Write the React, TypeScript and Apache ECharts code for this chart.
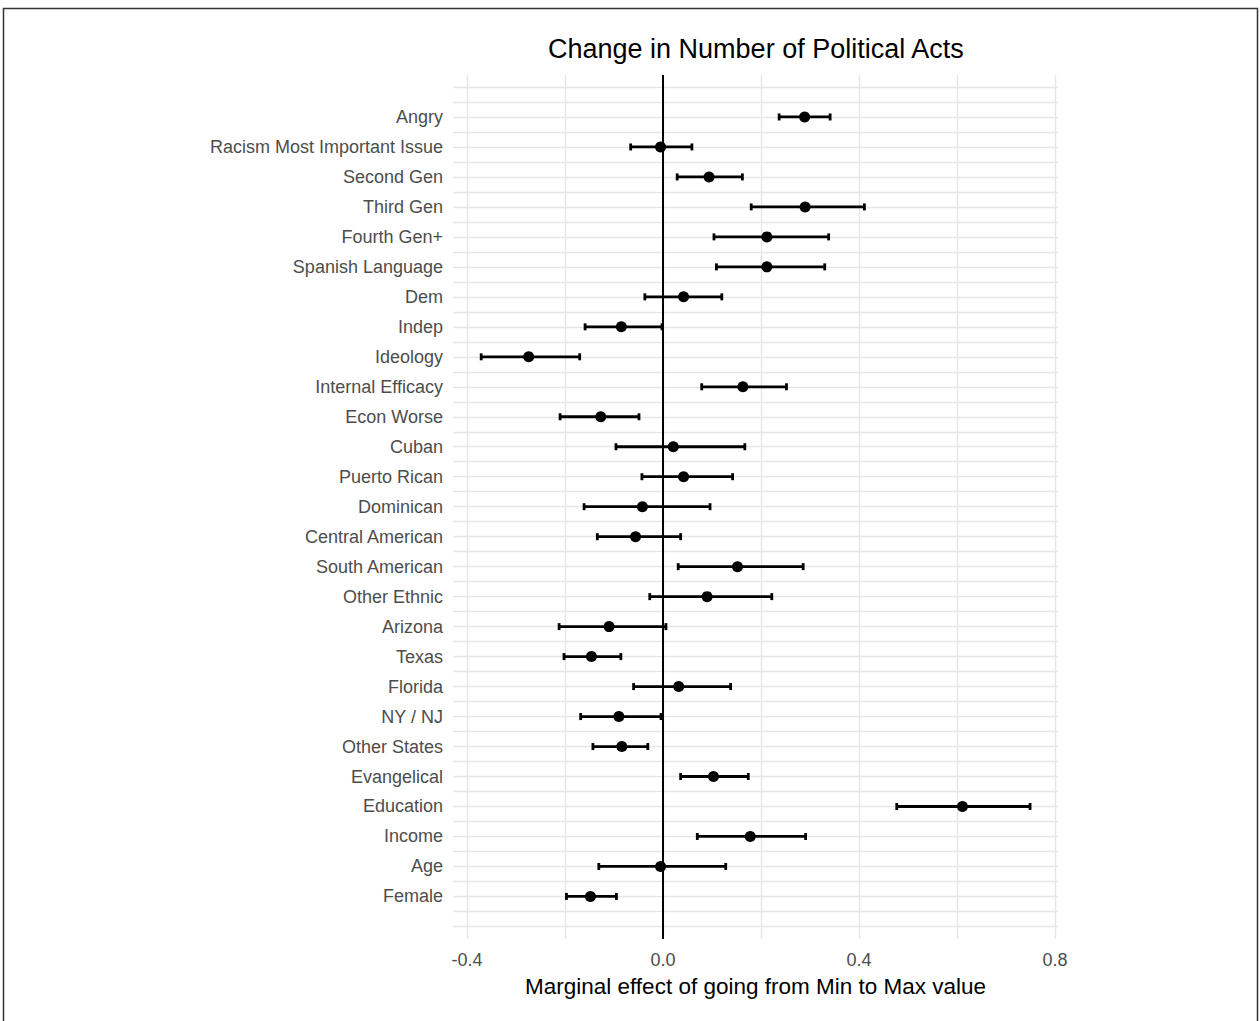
import React, { useEffect, useRef } from "react";
import * as echarts from "echarts";

// Categories listed from top to bottom
const categories = [
  "Angry",
  "Racism Most Important Issue",
  "Second Gen",
  "Third Gen",
  "Fourth Gen+",
  "Spanish Language",
  "Dem",
  "Indep",
  "Ideology",
  "Internal Efficacy",
  "Econ Worse",
  "Cuban",
  "Puerto Rican",
  "Dominican",
  "Central American",
  "South American",
  "Other Ethnic",
  "Arizona",
  "Texas",
  "Florida",
  "NY / NJ",
  "Other States",
  "Evangelical",
  "Education",
  "Income",
  "Age",
  "Female",
];

const estimates = [
  0.289, -0.005, 0.094, 0.29, 0.212, 0.212, 0.042, -0.085, -0.274, 0.163,
  -0.127, 0.021, 0.042, -0.042, -0.056, 0.152, 0.09, -0.11, -0.146, 0.032,
  -0.09, -0.084, 0.103, 0.611, 0.178, -0.005, -0.148,
];

const lowers = [
  0.237, -0.066, 0.029, 0.18, 0.104, 0.109, -0.037, -0.159, -0.371, 0.079,
  -0.21, -0.096, -0.043, -0.161, -0.134, 0.031, -0.027, -0.212, -0.202, -0.06,
  -0.168, -0.143, 0.036, 0.477, 0.07, -0.131, -0.197,
];

const uppers = [
  0.341, 0.059, 0.162, 0.411, 0.338, 0.33, 0.12, -0.002, -0.17, 0.252,
  -0.049, 0.167, 0.142, 0.096, 0.036, 0.286, 0.222, 0.006, -0.086, 0.138,
  -0.004, -0.031, 0.174, 0.749, 0.291, 0.128, -0.095,
];

const xTickLabels = ["-0.4", "0.0", "0.4", "0.8"];

const titleText = "Change in Number of Political Acts";
const xAxisName = "Marginal effect of going from Min to Max value";

const N = categories.length;

export default function App() {
  const ref = useRef<HTMLDivElement | null>(null);

  useEffect(() => {
    document.body.style.margin = "0";
    if (!ref.current) return;
    const chart = echarts.init(ref.current, undefined, { renderer: "svg" });

    const yPos = (i: number) => N - i;
    const labelByPos: Record<number, string> = {};
    categories.forEach((c, i) => (labelByPos[yPos(i)] = c));

    const errData = categories.map((_, i) => [yPos(i), lowers[i], uppers[i]]);
    const ptData = categories.map((_, i) => [estimates[i], yPos(i)]);

    const font = "'Liberation Sans', Arial, Helvetica, sans-serif";
    const gridColor = "#e6e6e6";

    const option: any = {
      animation: false,
      backgroundColor: "#ffffff",
      textStyle: { fontFamily: font },
      title: {
        text: titleText,
        left: 543,
        top: 30,
        textStyle: {
          fontFamily: font,
          fontSize: 27,
          fontWeight: "normal",
          color: "#000000",
        },
      },
      graphic: [
        {
          type: "rect",
          silent: true,
          shape: { x: 3.5, y: 8.5, width: 1254, height: 1040 },
          style: { fill: "none", stroke: "#333333", lineWidth: 1.5 },
          z: 0,
        },
      ],
      grid: {
        left: 453,
        right: 202,
        top: 75,
        bottom: 82,
        containLabel: false,
      },
      xAxis: {
        type: "value",
        min: -0.4285,
        max: 0.806,
        minInterval: 0.2,
        maxInterval: 0.2,
        axisLine: { show: false },
        axisTick: { show: false },
        splitLine: {
          show: true,
          showMinLine: false,
          showMaxLine: false,
          lineStyle: { color: gridColor, width: 1.4 },
        },
        axisLabel: {
          showMinLabel: false,
          showMaxLabel: false,
          margin: 12,
          fontSize: 18,
          color: "#4d4d4d",
          fontFamily: font,
          formatter: (v: number) => {
            const k = v / 0.4;
            if (Math.abs(k - Math.round(k)) < 1e-6) {
              const s = v.toFixed(1);
              return xTickLabels.includes(s) ? s : "";
            }
            return "";
          },
        },
        name: xAxisName,
        nameLocation: "middle",
        nameGap: 36,
        nameTextStyle: {
          fontSize: 22.5,
          color: "#000000",
          fontFamily: font,
        },
      },
      yAxis: {
        type: "value",
        min: -0.42,
        max: 28.4,
        minInterval: 0.5,
        maxInterval: 0.5,
        axisLine: { show: false },
        axisTick: { show: false },
        splitLine: {
          show: true,
          showMinLine: false,
          showMaxLine: false,
          lineStyle: { color: gridColor, width: 1.4 },
        },
        axisLabel: {
          showMinLabel: false,
          showMaxLabel: false,
          margin: 10,
          fontSize: 18,
          color: "#4d4d4d",
          fontFamily: font,
          formatter: (v: number) => {
            const r = Math.round(v);
            if (Math.abs(v - r) < 1e-6 && labelByPos[r]) return labelByPos[r];
            return "";
          },
        },
      },
      series: [
        {
          type: "custom",
          name: "CI",
          data: errData,
          encode: { x: [1, 2], y: 0 },
          z: 3,
          renderItem: (params: any, api: any) => {
            const y = api.value(0);
            const lo = api.value(1);
            const hi = api.value(2);
            const p1 = api.coord([lo, y]);
            const p2 = api.coord([hi, y]);
            const cap = 3.5;
            const st = { stroke: "#000000", lineWidth: 2.8 };
            return {
              type: "group",
              children: [
                {
                  type: "line",
                  shape: { x1: p1[0], y1: p1[1], x2: p2[0], y2: p2[1] },
                  style: st,
                },
                {
                  type: "line",
                  shape: { x1: p1[0], y1: p1[1] - cap, x2: p1[0], y2: p1[1] + cap },
                  style: st,
                },
                {
                  type: "line",
                  shape: { x1: p2[0], y1: p2[1] - cap, x2: p2[0], y2: p2[1] + cap },
                  style: st,
                },
              ],
            };
          },
        },
        {
          type: "scatter",
          name: "Estimate",
          data: ptData,
          symbol: "circle",
          symbolSize: 11,
          itemStyle: { color: "#000000", opacity: 1 },
          z: 4,
          markLine: {
            silent: true,
            symbol: ["none", "none"],
            label: { show: false },
            lineStyle: { color: "#000000", width: 2, type: "solid" },
            data: [{ xAxis: 0 }],
            z: 2,
          },
        },
      ],
    };

    chart.setOption(option);
    return () => chart.dispose();
  }, []);

  return <div ref={ref} style={{ width: 1260, height: 1021 }} />;
}
